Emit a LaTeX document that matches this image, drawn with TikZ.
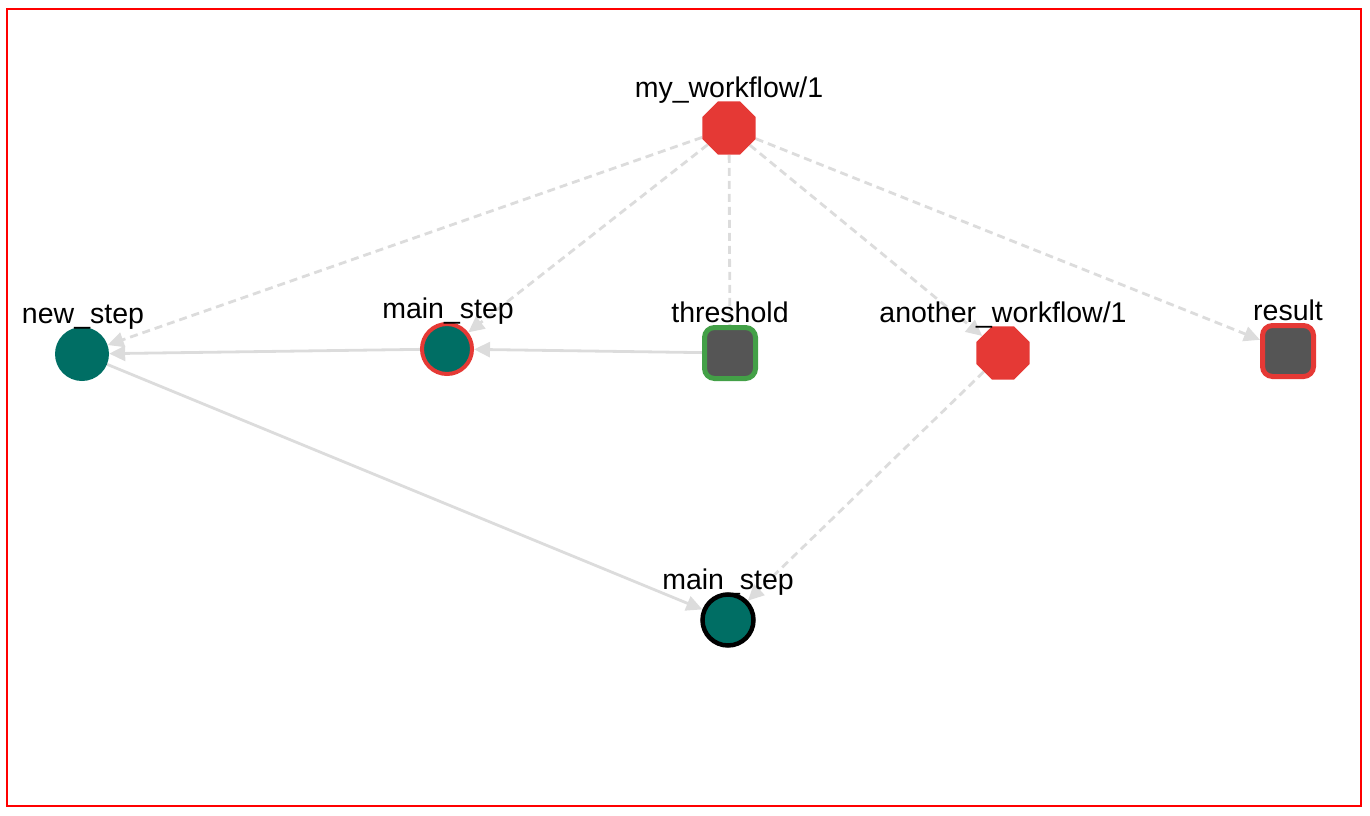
\documentclass[tikz,border=0pt]{standalone}
\usepackage{fontspec}
\setmainfont{Liberation Sans}
\usetikzlibrary{shapes.geometric,arrows.meta,backgrounds}
\definecolor{teal1}{RGB}{0,110,100}
\definecolor{red1}{RGB}{229,57,53}
\definecolor{grey1}{RGB}{85,85,85}
\definecolor{green1}{RGB}{67,160,71}
\definecolor{edge1}{RGB}{220,220,220}
\begin{document}
\begin{tikzpicture}[x=1pt,y=-1pt,
  wf/.style={regular polygon,regular polygon sides=8,fill=red1,draw=none,inner sep=0pt,minimum size=57.5pt},
  stepc/.style={circle,fill=teal1,inner sep=0pt,minimum size=#1},
  param/.style={rounded corners=10pt,fill=grey1,draw=#1,line width=5pt,inner sep=0pt,minimum size=51pt},
  lbl/.style={font=\fontsize{28.5}{34}\selectfont,anchor=base,inner sep=0pt},
  conn/.style={draw=edge1,line width=2.8pt,-{Triangle[length=16pt,width=15pt]}},
  dconn/.style={conn,dash pattern=on 8pt off 5pt}]
\useasboundingbox (0,0) rectangle (1370,816);
\draw[red,line width=2pt] (7,9) rectangle (1361,806);

\node[wf] (wf) at (729,128) {};
\node[stepc=54pt] (ns) at (82,354) {};
\node[stepc=50pt,draw=red1,line width=4pt] (ms) at (447,349) {};
\node[param=green1] (th) at (730,353) {};
\node[wf] (aw) at (1003,353) {};
\node[param=red1] (re) at (1288,351) {};
\node[stepc=51pt,draw=black,line width=4.5pt] (mb) at (728,620) {};

\begin{pgfonlayer}{background}
\draw[dconn] (wf) -- (ns);
\draw[dconn] (wf) -- (ms);
\draw[draw=edge1,line width=2.8pt,dash pattern=on 8pt off 5pt] (wf) -- (th);
\draw[dconn] (wf) -- (aw);
\draw[dconn] (wf) -- (re);
\draw[conn] (ms) -- (ns);
\draw[conn] (th) -- (ms);
\draw[conn] (ns) -- (mb);
\draw[dconn] (aw) -- (mb);
\end{pgfonlayer}

\node[lbl] (lwf) at (729,97) {my\_workflow/1};
\node[lbl] (lns) at (83,323) {new\_step};
\node[lbl] (lms) at (448,318) {main\_step};
\node[lbl] (lth) at (730,322) {threshold};
\node[lbl] (law) at (1003,322) {another\_workflow/1};
\node[lbl] (lre) at (1288,320) {result};
\node[lbl] (lmb) at (728,589) {main\_step};
\end{tikzpicture}
\end{document}
